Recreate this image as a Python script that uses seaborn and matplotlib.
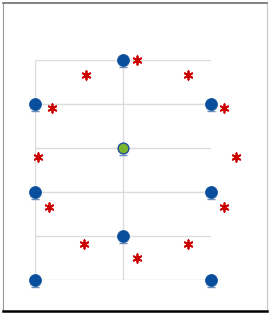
import matplotlib
matplotlib.use("Agg")
import matplotlib.pyplot as plt
import matplotlib.transforms as mtransforms
import seaborn as sns
import pandas as pd

# blue node positions
node_x = [1, 0, 2, 0, 2, 1, 0, 2]
node_y = [5, 4, 4, 2, 2, 1, 0, 0]

# green centre node
centre_x = [1]
centre_y = [3]

# red star markers
star_x = [1.16, 0.58, 1.74, 0.19, 2.15, 0.03, 2.28, 0.16, 2.15, 0.56, 1.74, 1.16]
star_y = [5.0, 4.66, 4.66, 3.91, 3.91, 2.8, 2.8, 1.66, 1.66, 0.82, 0.82, 0.5]

y_ticks = [0, 1, 2, 3, 4, 5]
x_ticks = [0, 1]


def main():
    sns.set_style("white")
    fig = plt.figure(figsize=(2.72, 3.16), dpi=100)

    # outer frame
    frame = fig.add_axes([3 / 272, 5 / 316, 264 / 272, 308 / 316])
    frame.set_xticks([])
    frame.set_yticks([])
    frame.set_facecolor("white")
    frame.spines["top"].set_color("#6b6b6b")
    frame.spines["left"].set_color("#9a9a9a")
    frame.spines["right"].set_color("#c8c8c8")
    frame.spines["bottom"].set_color("#000000")
    frame.spines["bottom"].set_linewidth(1.8)
    frame.spines["top"].set_linewidth(1.2)

    ax = fig.add_axes([35 / 272, 36 / 316, 176 / 272, 220 / 316])
    ax.patch.set_alpha(0)
    ax.set_xlim(0, 2)
    ax.set_ylim(0, 5)
    ax.set_xticks(x_ticks)
    ax.set_yticks(y_ticks)
    ax.tick_params(length=0, labelbottom=False, labelleft=False)
    ax.grid(True, color="#dcdcdc", linewidth=1.0)
    for s in ax.spines.values():
        s.set_visible(False)

    nodes = pd.DataFrame({"x": node_x, "y": node_y})
    stars = pd.DataFrame({"x": star_x, "y": star_y})
    centre = pd.DataFrame({"x": centre_x, "y": centre_y})

    # little shadow line under each node
    shadow = mtransforms.offset_copy(ax.transData, fig=fig, y=-7, units="dots")
    ax.scatter(node_x + centre_x, node_y + centre_y, marker="_", s=40,
               color="#6a8cb8", linewidth=1.0, transform=shadow,
               clip_on=False, zorder=3)

    sns.scatterplot(data=nodes, x="x", y="y", ax=ax, s=75, color="#0a4f9c",
                    edgecolor="#0a4f9c", linewidth=0.5, clip_on=False,
                    zorder=4, legend=False)
    sns.scatterplot(data=centre, x="x", y="y", ax=ax, s=60, color="#7bb52c",
                    edgecolor="#1f4f9c", linewidth=1.0, clip_on=False,
                    zorder=4, legend=False)
    sns.scatterplot(data=stars, x="x", y="y", ax=ax, s=38, marker=(6, 2, 0),
                    color="#cc0000", edgecolor="#cc0000", linewidth=1.3,
                    clip_on=False, zorder=4, legend=False)
    ax.set_xlabel("")
    ax.set_ylabel("")

    fig.savefig("out.png", dpi=100)


if __name__ == "__main__":
    main()
